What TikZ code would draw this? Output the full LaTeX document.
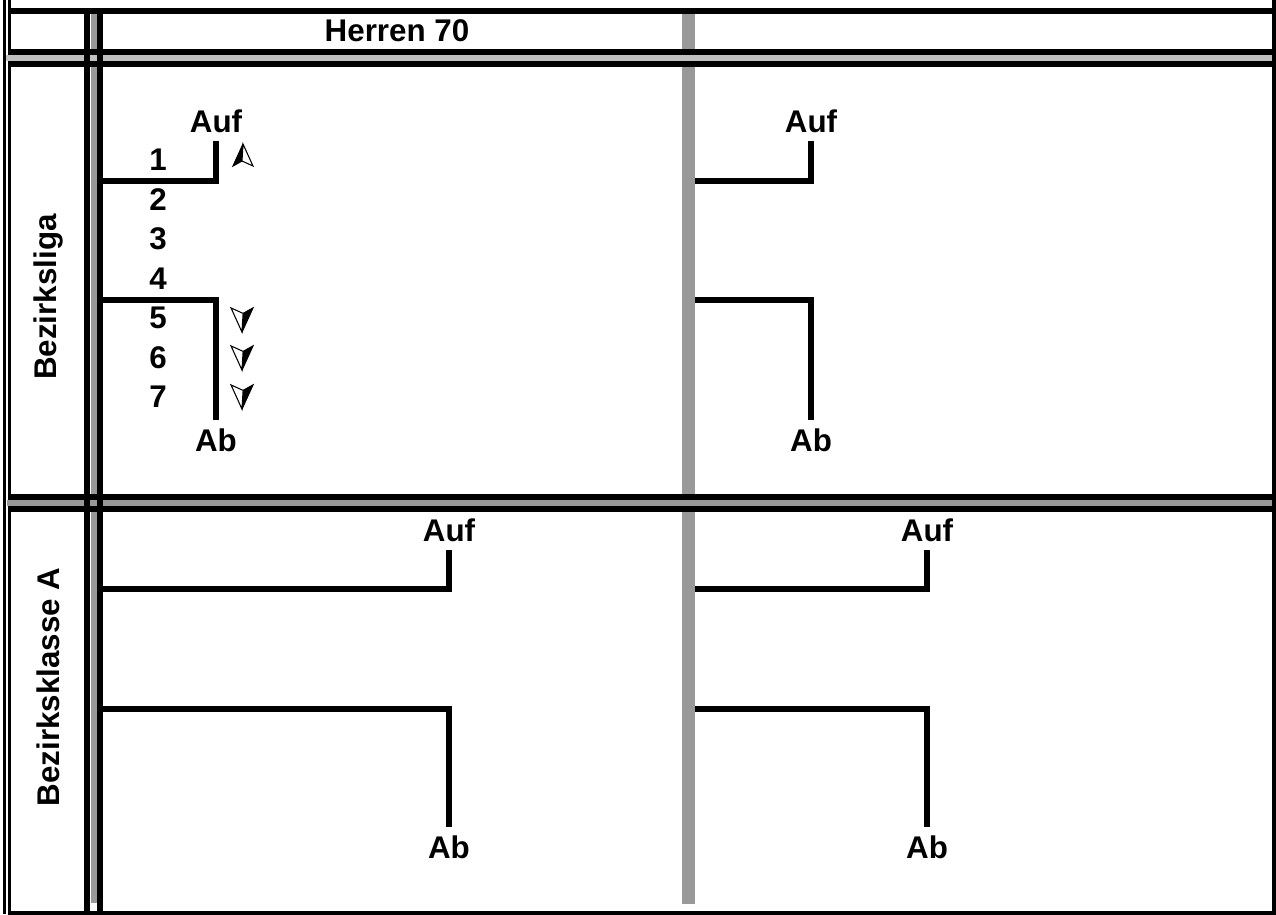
\documentclass[tikz,border=0pt]{standalone}
\usepackage{fontspec}
\setmainfont{Liberation Sans}
\definecolor{sepgray}{HTML}{999999}
\definecolor{lightsep}{HTML}{C0C0C0}
\tikzset{
	rule/.style={line width=4.5pt},
	thinrule/.style={line width=2.25pt},
	lbl/.style={font=\fontsize{23.5}{27}\selectfont\bfseries, inner sep=0pt},
	endlbl/.style={lbl, inner sep=6pt},
	bracket/.style={line width=4.5pt},
	pics/navarrow/.style={code={
		\fill[black] (0,-11) -- (-10,11) -- (-1,6) -- cycle;
		\draw[line width=0.8pt, fill=white] (0,-11) -- (-1,6) -- (10,11) -- cycle;
		\draw[line width=0.8pt] (0,-11) -- (-10,11) -- (-1,6);
	}},
}
\begin{document}
\begin{tikzpicture}[x=0.75pt, y=-0.75pt]
	\useasboundingbox (0,0) rectangle (1276,914);
	\begin{scope}
	\clip (0,0) rectangle (1276,914);
	% frame
	\draw[thinrule] (4.5,0) -- (4.5,914);
	\draw[thinrule] (9.5,0) -- (9.5,914);
	\draw[rule] (8,11) -- (1276,11);
	\draw[rule] (1275,0) -- (1275,914);
	\draw[rule] (8,914) -- (1276,914);
	% gray verticals
	\draw[line width=9.75pt, sepgray] (688.5,14) -- (688.5,904);
	\draw[rule, sepgray] (93.5,14) -- (93.5,903);
	% header separator
	\draw[rule] (11,52) -- (1272,52);
	\draw[rule] (11,64) -- (1272,64);
	\draw[rule, lightsep] (6,58) -- (1272,58);
	% row separator
	\draw[rule] (11,497) -- (1272,497);
	\draw[rule] (11,509) -- (1272,509);
	\draw[rule, sepgray] (7,503) -- (1272,503);
	% first column edges
	\draw[rule] (87,14) -- (87,911);
	\draw[rule] (99.5,14) -- (99.5,911);
	\end{scope}

	\node (head)	at (397,31)	[lbl]	{Herren 70};
	\node (liga)	at (48,297)	[lbl, rotate=90]	{Bezirksliga};
	\node (klasse)	at (48,687)	[lbl, rotate=90]	{Bezirksklasse A};

	% Bezirksliga
	\node (aufA)	at (216,121)	[endlbl]	{Auf};
	\node (abA)	at (216,440)	[endlbl]	{Ab};
	\node (aufB)	at (811,121)	[endlbl]	{Auf};
	\node (abB)	at (811,440)	[endlbl]	{Ab};
	\coordinate (inAufA) at (102,180.5);
	\coordinate (inAbA) at (102,300);
	\coordinate (inAufB) at (695,180.5);
	\coordinate (inAbB) at (695,300);
	\draw[bracket] (inAufA) -| (aufA.south);
	\draw[bracket] (inAbA) -| (abA.north);
	\draw[bracket] (inAufB) -| (aufB.south);
	\draw[bracket] (inAbB) -| (abB.north);
	\foreach \i in {1,...,7}
		\node (pos\i) at (158,{160+39.5*(\i-1)}) [lbl] {\i};
	\pic at (243,155) {navarrow};
	\foreach \y in {320,358,397}
		\pic[rotate=180, scale=1.1] at (242,\y) {navarrow};

	% Bezirksklasse A
	\node (aufC)	at (449,530)	[endlbl]	{Auf};
	\node (abC)	at (449,847)	[endlbl]	{Ab};
	\node (aufD)	at (927,530)	[endlbl]	{Auf};
	\node (abD)	at (927,847)	[endlbl]	{Ab};
	\coordinate (inAufC) at (102,589);
	\coordinate (inAbC) at (102,709);
	\coordinate (inAufD) at (695,589);
	\coordinate (inAbD) at (695,709);
	\draw[bracket] (inAufC) -| (aufC.south);
	\draw[bracket] (inAbC) -| (abC.north);
	\draw[bracket] (inAufD) -| (aufD.south);
	\draw[bracket] (inAbD) -| (abD.north);
\end{tikzpicture}
\end{document}
